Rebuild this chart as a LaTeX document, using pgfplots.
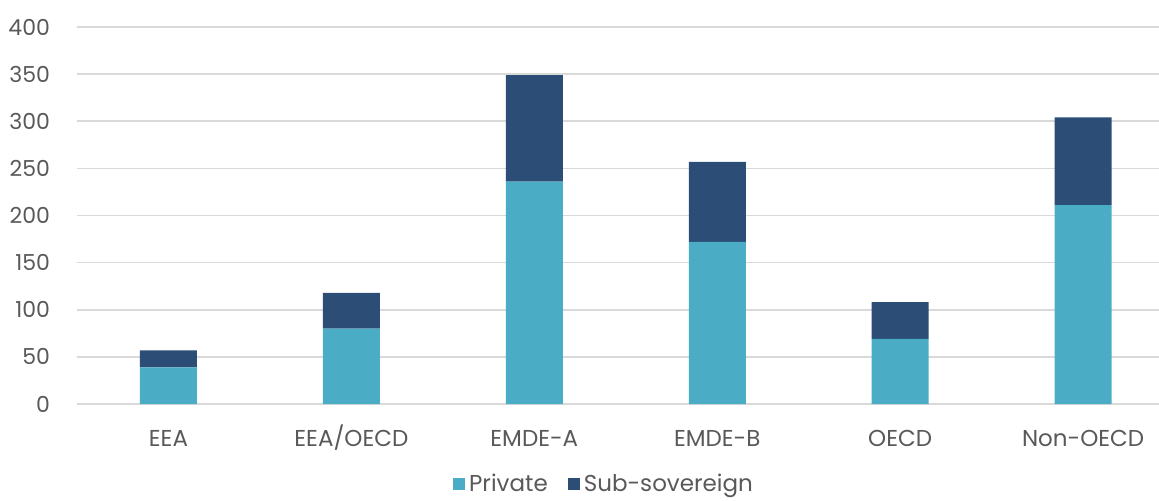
\documentclass[border=0pt]{standalone}
\usepackage{fontspec}
\setmainfont{Poppins}
\usepackage{pgfplots}
\pgfplotsset{compat=1.18}

\definecolor{privblue}{HTML}{4BACC6}
\definecolor{subblue}{HTML}{2C4D75}
\definecolor{gridgrey}{HTML}{D9D9D9}
\definecolor{textgrey}{HTML}{595959}

\begin{document}
\begin{tikzpicture}
\path[use as bounding box] (-38.5pt,-48pt) rectangle (541pt,202pt);
\begin{axis}[
    at={(0,0)}, anchor=south west,
    scale only axis,
    width=541pt, height=188.5pt,
    ybar stacked,
    bar width=28.5pt,
    xmin=-0.5, xmax=5.415,
    ymin=0, ymax=400,
    ytick={0,50,...,400},
    xtick=data,
    xticklabels={EEA, EEA/OECD, EMDE-A, EMDE-B, OECD, Non-OECD},
    axis x line*=bottom,
    axis y line*=left,
    y axis line style={draw=none},
    x axis line style={gridgrey, line width=0.8pt},
    ymajorgrids,
    grid style={gridgrey, line width=0.8pt},
    major tick length=0pt,
    tick style={draw=none},
    /pgf/number format/assume math mode=true,
    ticklabel style={font=\fontsize{11}{13}\selectfont, text=textgrey},
    yticklabel style={anchor=east, xshift=-10pt},
    xticklabel style={font=\fontsize{11.5}{13}\selectfont, anchor=base, yshift=-21pt},
    legend style={at={(0.488,-0.212)}, anchor=center, draw=none,
        legend columns=2, font=\fontsize{11.5}{13}\selectfont, text=textgrey,
        inner sep=1pt,
        /tikz/every even column/.append style={column sep=8pt}},
    legend image code/.code={\fill[#1] (0pt,-3pt) rectangle (6pt,3pt);},
    clip=false,
]
\addplot[fill=privblue, draw=none] coordinates {
    (0,39) (1,80) (2,236) (3,172) (4,69) (5,211)
};
\addlegendentry{Private}
\addplot[fill=subblue, draw=none] coordinates {
    (0,18) (1,38) (2,113) (3,85) (4,39) (5,93)
};
\addlegendentry{Sub-sovereign}
\end{axis}
\end{tikzpicture}
\end{document}
